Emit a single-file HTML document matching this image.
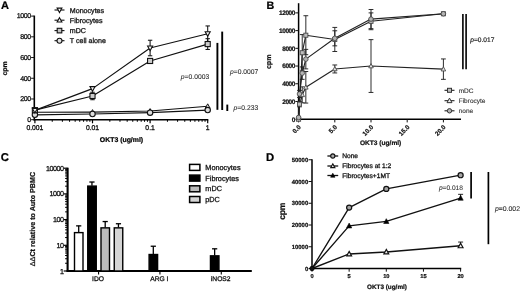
<!DOCTYPE html>
<html lang="en">
<head>
<meta charset="utf-8">
<title>Figure</title>
<style>
html,body{margin:0;padding:0;background:#fff;}
body{width:520px;height:291px;overflow:hidden;font-family:"Liberation Sans", sans-serif;}
svg{display:block;will-change:transform;filter:grayscale(1) blur(0.4px);}
</style>
</head>
<body>
<svg width="520" height="291" viewBox="0 0 520 291" font-family='"Liberation Sans", sans-serif' text-rendering="geometricPrecision">
<rect x="0" y="0" width="520" height="291" fill="#ffffff"/>
<g id="panelA">
<text x="1.00" y="8.70" font-size="11.0" font-weight="bold" font-style="normal" text-anchor="start" fill="#000" stroke="#000" stroke-width="0.22">A</text>
<line x1="34.30" y1="15.60" x2="34.30" y2="120.50" stroke="#000" stroke-width="1.6" stroke-linecap="butt"/>
<line x1="33.50" y1="119.70" x2="208.30" y2="119.70" stroke="#000" stroke-width="1.6" stroke-linecap="butt"/>
<line x1="31.10" y1="119.70" x2="34.30" y2="119.70" stroke="#111" stroke-width="1.0" stroke-linecap="butt"/>
<text x="30.80" y="122.00" font-size="7.0" font-weight="normal" font-style="normal" text-anchor="end" fill="#111" stroke="#111" stroke-width="0.28" letter-spacing="-0.36">0</text>
<line x1="31.10" y1="98.98" x2="34.30" y2="98.98" stroke="#111" stroke-width="1.0" stroke-linecap="butt"/>
<text x="30.80" y="101.28" font-size="7.0" font-weight="normal" font-style="normal" text-anchor="end" fill="#111" stroke="#111" stroke-width="0.28" letter-spacing="-0.36">200</text>
<line x1="31.10" y1="78.26" x2="34.30" y2="78.26" stroke="#111" stroke-width="1.0" stroke-linecap="butt"/>
<text x="30.80" y="80.56" font-size="7.0" font-weight="normal" font-style="normal" text-anchor="end" fill="#111" stroke="#111" stroke-width="0.28" letter-spacing="-0.36">400</text>
<line x1="31.10" y1="57.54" x2="34.30" y2="57.54" stroke="#111" stroke-width="1.0" stroke-linecap="butt"/>
<text x="30.80" y="59.84" font-size="7.0" font-weight="normal" font-style="normal" text-anchor="end" fill="#111" stroke="#111" stroke-width="0.28" letter-spacing="-0.36">600</text>
<line x1="31.10" y1="36.82" x2="34.30" y2="36.82" stroke="#111" stroke-width="1.0" stroke-linecap="butt"/>
<text x="30.80" y="39.12" font-size="7.0" font-weight="normal" font-style="normal" text-anchor="end" fill="#111" stroke="#111" stroke-width="0.28" letter-spacing="-0.36">800</text>
<line x1="31.10" y1="16.10" x2="34.30" y2="16.10" stroke="#111" stroke-width="1.0" stroke-linecap="butt"/>
<text x="30.80" y="18.40" font-size="7.0" font-weight="normal" font-style="normal" text-anchor="end" fill="#111" stroke="#111" stroke-width="0.28" letter-spacing="-0.36">1000</text>
<line x1="34.90" y1="119.70" x2="34.90" y2="123.30" stroke="#000" stroke-width="1.2" stroke-linecap="butt"/>
<line x1="52.24" y1="119.70" x2="52.24" y2="121.80" stroke="#000" stroke-width="1.0" stroke-linecap="butt"/>
<line x1="62.38" y1="119.70" x2="62.38" y2="121.80" stroke="#000" stroke-width="1.0" stroke-linecap="butt"/>
<line x1="69.58" y1="119.70" x2="69.58" y2="121.80" stroke="#000" stroke-width="1.0" stroke-linecap="butt"/>
<line x1="75.16" y1="119.70" x2="75.16" y2="121.80" stroke="#000" stroke-width="1.0" stroke-linecap="butt"/>
<line x1="79.72" y1="119.70" x2="79.72" y2="121.80" stroke="#000" stroke-width="1.0" stroke-linecap="butt"/>
<line x1="83.58" y1="119.70" x2="83.58" y2="121.80" stroke="#000" stroke-width="1.0" stroke-linecap="butt"/>
<line x1="86.92" y1="119.70" x2="86.92" y2="121.80" stroke="#000" stroke-width="1.0" stroke-linecap="butt"/>
<line x1="89.86" y1="119.70" x2="89.86" y2="121.80" stroke="#000" stroke-width="1.0" stroke-linecap="butt"/>
<line x1="92.50" y1="119.70" x2="92.50" y2="123.30" stroke="#000" stroke-width="1.2" stroke-linecap="butt"/>
<line x1="109.84" y1="119.70" x2="109.84" y2="121.80" stroke="#000" stroke-width="1.0" stroke-linecap="butt"/>
<line x1="119.98" y1="119.70" x2="119.98" y2="121.80" stroke="#000" stroke-width="1.0" stroke-linecap="butt"/>
<line x1="127.18" y1="119.70" x2="127.18" y2="121.80" stroke="#000" stroke-width="1.0" stroke-linecap="butt"/>
<line x1="132.76" y1="119.70" x2="132.76" y2="121.80" stroke="#000" stroke-width="1.0" stroke-linecap="butt"/>
<line x1="137.32" y1="119.70" x2="137.32" y2="121.80" stroke="#000" stroke-width="1.0" stroke-linecap="butt"/>
<line x1="141.18" y1="119.70" x2="141.18" y2="121.80" stroke="#000" stroke-width="1.0" stroke-linecap="butt"/>
<line x1="144.52" y1="119.70" x2="144.52" y2="121.80" stroke="#000" stroke-width="1.0" stroke-linecap="butt"/>
<line x1="147.46" y1="119.70" x2="147.46" y2="121.80" stroke="#000" stroke-width="1.0" stroke-linecap="butt"/>
<line x1="150.10" y1="119.70" x2="150.10" y2="123.30" stroke="#000" stroke-width="1.2" stroke-linecap="butt"/>
<line x1="167.44" y1="119.70" x2="167.44" y2="121.80" stroke="#000" stroke-width="1.0" stroke-linecap="butt"/>
<line x1="177.58" y1="119.70" x2="177.58" y2="121.80" stroke="#000" stroke-width="1.0" stroke-linecap="butt"/>
<line x1="184.78" y1="119.70" x2="184.78" y2="121.80" stroke="#000" stroke-width="1.0" stroke-linecap="butt"/>
<line x1="190.36" y1="119.70" x2="190.36" y2="121.80" stroke="#000" stroke-width="1.0" stroke-linecap="butt"/>
<line x1="194.92" y1="119.70" x2="194.92" y2="121.80" stroke="#000" stroke-width="1.0" stroke-linecap="butt"/>
<line x1="198.78" y1="119.70" x2="198.78" y2="121.80" stroke="#000" stroke-width="1.0" stroke-linecap="butt"/>
<line x1="202.12" y1="119.70" x2="202.12" y2="121.80" stroke="#000" stroke-width="1.0" stroke-linecap="butt"/>
<line x1="205.06" y1="119.70" x2="205.06" y2="121.80" stroke="#000" stroke-width="1.0" stroke-linecap="butt"/>
<line x1="207.70" y1="119.70" x2="207.70" y2="123.30" stroke="#000" stroke-width="1.2" stroke-linecap="butt"/>
<text x="34.90" y="130.10" font-size="6.8" font-weight="normal" font-style="normal" text-anchor="middle" fill="#111" stroke="#111" stroke-width="0.28">0.001</text>
<text x="92.50" y="130.10" font-size="6.8" font-weight="normal" font-style="normal" text-anchor="middle" fill="#111" stroke="#111" stroke-width="0.28">0.01</text>
<text x="150.10" y="130.10" font-size="6.8" font-weight="normal" font-style="normal" text-anchor="middle" fill="#111" stroke="#111" stroke-width="0.28">0.1</text>
<text x="207.70" y="130.10" font-size="6.8" font-weight="normal" font-style="normal" text-anchor="middle" fill="#111" stroke="#111" stroke-width="0.28">1</text>
<text x="121.50" y="141.70" font-size="6.9" font-weight="bold" font-style="normal" text-anchor="middle" fill="#000" stroke="#000" stroke-width="0.22">OKT3 (ug/ml)</text>
<text x="6.60" y="68.50" font-size="6.9" font-weight="bold" font-style="normal" text-anchor="middle" fill="#111" stroke="#111" stroke-width="0.22" transform="rotate(-90 6.60 68.50)">cpm</text>
<polyline points="34.90,110.38 92.50,88.62 150.10,48.01 207.70,33.71" fill="none" stroke="#111" stroke-width="1.2" stroke-linejoin="round"/>
<polyline points="34.90,110.17 92.50,95.98 150.10,60.96 207.70,44.07" fill="none" stroke="#111" stroke-width="1.2" stroke-linejoin="round"/>
<polyline points="34.90,112.24 92.50,112.03 150.10,111.00 207.70,106.23" fill="none" stroke="#111" stroke-width="1.2" stroke-linejoin="round"/>
<polyline points="34.90,114.83 92.50,114.00 150.10,112.66 207.70,110.07" fill="none" stroke="#111" stroke-width="1.2" stroke-linejoin="round"/>
<line x1="150.10" y1="40.24" x2="150.10" y2="55.78" stroke="#111" stroke-width="1.05" stroke-linecap="butt"/>
<line x1="147.90" y1="40.24" x2="152.30" y2="40.24" stroke="#111" stroke-width="1.05" stroke-linecap="butt"/>
<line x1="147.90" y1="55.78" x2="152.30" y2="55.78" stroke="#111" stroke-width="1.05" stroke-linecap="butt"/>
<line x1="207.70" y1="25.94" x2="207.70" y2="41.48" stroke="#111" stroke-width="1.05" stroke-linecap="butt"/>
<line x1="205.50" y1="25.94" x2="209.90" y2="25.94" stroke="#111" stroke-width="1.05" stroke-linecap="butt"/>
<line x1="205.50" y1="41.48" x2="209.90" y2="41.48" stroke="#111" stroke-width="1.05" stroke-linecap="butt"/>
<line x1="92.50" y1="92.25" x2="92.50" y2="99.71" stroke="#111" stroke-width="1.05" stroke-linecap="butt"/>
<line x1="90.30" y1="92.25" x2="94.70" y2="92.25" stroke="#111" stroke-width="1.05" stroke-linecap="butt"/>
<line x1="90.30" y1="99.71" x2="94.70" y2="99.71" stroke="#111" stroke-width="1.05" stroke-linecap="butt"/>
<line x1="207.70" y1="38.68" x2="207.70" y2="49.46" stroke="#111" stroke-width="1.05" stroke-linecap="butt"/>
<line x1="205.50" y1="38.68" x2="209.90" y2="38.68" stroke="#111" stroke-width="1.05" stroke-linecap="butt"/>
<line x1="205.50" y1="49.46" x2="209.90" y2="49.46" stroke="#111" stroke-width="1.05" stroke-linecap="butt"/>
<polygon points="34.90,109.84 37.18,114.04 32.62,114.04" fill="#eee" stroke="#111" stroke-width="1.0" stroke-linejoin="miter"/>
<polygon points="92.50,109.63 94.78,113.83 90.22,113.83" fill="#eee" stroke="#111" stroke-width="1.0" stroke-linejoin="miter"/>
<polygon points="150.10,108.60 152.38,112.80 147.82,112.80" fill="#eee" stroke="#111" stroke-width="1.0" stroke-linejoin="miter"/>
<polygon points="207.70,103.83 209.98,108.03 205.42,108.03" fill="#eee" stroke="#111" stroke-width="1.0" stroke-linejoin="miter"/>
<circle cx="34.90" cy="114.83" r="2.7" fill="#ddd" stroke="#111" stroke-width="1.1"/>
<circle cx="92.50" cy="114.00" r="2.7" fill="#ddd" stroke="#111" stroke-width="1.1"/>
<circle cx="150.10" cy="112.66" r="2.7" fill="#ddd" stroke="#111" stroke-width="1.1"/>
<circle cx="207.70" cy="110.07" r="2.7" fill="#ddd" stroke="#111" stroke-width="1.1"/>
<rect x="32.35" y="107.62" width="5.10" height="5.10" fill="#ccc" stroke="#111" stroke-width="1.1"/>
<rect x="89.95" y="93.43" width="5.10" height="5.10" fill="#ccc" stroke="#111" stroke-width="1.1"/>
<rect x="147.55" y="58.41" width="5.10" height="5.10" fill="#ccc" stroke="#111" stroke-width="1.1"/>
<rect x="205.15" y="41.52" width="5.10" height="5.10" fill="#ccc" stroke="#111" stroke-width="1.1"/>
<polygon points="34.90,113.03 37.42,108.39 32.38,108.39" fill="#f4f4f4" stroke="#111" stroke-width="1.1" stroke-linejoin="miter"/>
<polygon points="92.50,91.27 95.02,86.63 89.98,86.63" fill="#f4f4f4" stroke="#111" stroke-width="1.1" stroke-linejoin="miter"/>
<polygon points="150.10,50.66 152.62,46.02 147.58,46.02" fill="#f4f4f4" stroke="#111" stroke-width="1.1" stroke-linejoin="miter"/>
<polygon points="207.70,36.36 210.22,31.72 205.18,31.72" fill="#f4f4f4" stroke="#111" stroke-width="1.1" stroke-linejoin="miter"/>
<line x1="54.50" y1="10.00" x2="64.50" y2="10.00" stroke="#111" stroke-width="1.1" stroke-linecap="butt"/>
<text x="69.80" y="12.60" font-size="7.1" font-weight="normal" font-style="normal" text-anchor="start" fill="#111" stroke="#111" stroke-width="0.28">Monocytes</text>
<line x1="54.50" y1="20.20" x2="64.50" y2="20.20" stroke="#111" stroke-width="1.1" stroke-linecap="butt"/>
<text x="69.80" y="22.80" font-size="7.1" font-weight="normal" font-style="normal" text-anchor="start" fill="#111" stroke="#111" stroke-width="0.28">Fibrocytes</text>
<line x1="54.50" y1="30.60" x2="64.50" y2="30.60" stroke="#111" stroke-width="1.1" stroke-linecap="butt"/>
<text x="69.80" y="33.20" font-size="7.1" font-weight="normal" font-style="normal" text-anchor="start" fill="#111" stroke="#111" stroke-width="0.28">mDC</text>
<line x1="54.50" y1="40.70" x2="64.50" y2="40.70" stroke="#111" stroke-width="1.1" stroke-linecap="butt"/>
<text x="69.80" y="43.30" font-size="7.1" font-weight="normal" font-style="normal" text-anchor="start" fill="#111" stroke="#111" stroke-width="0.28">T cell alone</text>
<polygon points="59.50,12.50 61.88,8.12 57.12,8.12" fill="#fff" stroke="#111" stroke-width="1.1" stroke-linejoin="miter"/>
<polygon points="59.50,17.70 61.88,22.07 57.12,22.07" fill="#fff" stroke="#111" stroke-width="1.1" stroke-linejoin="miter"/>
<rect x="57.20" y="28.30" width="4.60" height="4.60" fill="#c4c4c4" stroke="#111" stroke-width="1.1"/>
<circle cx="59.50" cy="40.70" r="2.5" fill="#e2e2e2" stroke="#111" stroke-width="1.1"/>
<line x1="217.40" y1="42.90" x2="217.40" y2="109.80" stroke="#000" stroke-width="1.9" stroke-linecap="butt"/>
<line x1="222.20" y1="31.60" x2="222.20" y2="110.00" stroke="#000" stroke-width="1.9" stroke-linecap="butt"/>
<line x1="227.30" y1="104.60" x2="227.30" y2="111.00" stroke="#000" stroke-width="1.9" stroke-linecap="butt"/>
<text x="180.80" y="79.40" font-size="6.75" fill="#2a2a2a" stroke="#2a2a2a" stroke-width="0.08"><tspan font-style="italic">p</tspan>=0.0003</text>
<text x="230.00" y="73.50" font-size="6.75" fill="#2a2a2a" stroke="#2a2a2a" stroke-width="0.08"><tspan font-style="italic">p</tspan>=0.0007</text>
<text x="233.60" y="109.90" font-size="6.75" fill="#2a2a2a" stroke="#2a2a2a" stroke-width="0.08"><tspan font-style="italic">p</tspan>=0.233</text>
</g>
<g id="panelB">
<text x="266.50" y="8.80" font-size="10.7" font-weight="bold" font-style="normal" text-anchor="start" fill="#000" stroke="#000" stroke-width="0.22">B</text>
<line x1="298.60" y1="3.20" x2="298.60" y2="119.90" stroke="#000" stroke-width="1.5" stroke-linecap="butt"/>
<line x1="297.90" y1="119.20" x2="461.00" y2="119.20" stroke="#000" stroke-width="1.5" stroke-linecap="butt"/>
<line x1="295.40" y1="119.20" x2="298.60" y2="119.20" stroke="#111" stroke-width="1.0" stroke-linecap="butt"/>
<text x="295.10" y="121.55" font-size="6.5" font-weight="bold" font-style="normal" text-anchor="end" fill="#111" stroke="#111" stroke-width="0.22" letter-spacing="-0.38">0</text>
<line x1="295.40" y1="101.48" x2="298.60" y2="101.48" stroke="#111" stroke-width="1.0" stroke-linecap="butt"/>
<text x="295.10" y="103.83" font-size="6.5" font-weight="bold" font-style="normal" text-anchor="end" fill="#111" stroke="#111" stroke-width="0.22" letter-spacing="-0.38">2000</text>
<line x1="295.40" y1="83.76" x2="298.60" y2="83.76" stroke="#111" stroke-width="1.0" stroke-linecap="butt"/>
<text x="295.10" y="86.11" font-size="6.5" font-weight="bold" font-style="normal" text-anchor="end" fill="#111" stroke="#111" stroke-width="0.22" letter-spacing="-0.38">4000</text>
<line x1="295.40" y1="66.04" x2="298.60" y2="66.04" stroke="#111" stroke-width="1.0" stroke-linecap="butt"/>
<text x="295.10" y="68.39" font-size="6.5" font-weight="bold" font-style="normal" text-anchor="end" fill="#111" stroke="#111" stroke-width="0.22" letter-spacing="-0.38">6000</text>
<line x1="295.40" y1="48.32" x2="298.60" y2="48.32" stroke="#111" stroke-width="1.0" stroke-linecap="butt"/>
<text x="295.10" y="50.67" font-size="6.5" font-weight="bold" font-style="normal" text-anchor="end" fill="#111" stroke="#111" stroke-width="0.22" letter-spacing="-0.38">8000</text>
<line x1="295.40" y1="30.60" x2="298.60" y2="30.60" stroke="#111" stroke-width="1.0" stroke-linecap="butt"/>
<text x="295.10" y="32.95" font-size="6.5" font-weight="bold" font-style="normal" text-anchor="end" fill="#111" stroke="#111" stroke-width="0.22" letter-spacing="-0.38">10000</text>
<line x1="295.40" y1="12.88" x2="298.60" y2="12.88" stroke="#111" stroke-width="1.0" stroke-linecap="butt"/>
<text x="295.10" y="15.23" font-size="6.5" font-weight="bold" font-style="normal" text-anchor="end" fill="#111" stroke="#111" stroke-width="0.22" letter-spacing="-0.38">12000</text>
<line x1="298.60" y1="119.20" x2="298.60" y2="122.40" stroke="#111" stroke-width="1.0" stroke-linecap="butt"/>
<text x="301.30" y="127.50" font-size="6.3" font-weight="bold" font-style="normal" text-anchor="end" fill="#111" stroke="#111" stroke-width="0.22" transform="rotate(-45 301.30 127.50)">0.0</text>
<line x1="334.80" y1="119.20" x2="334.80" y2="122.40" stroke="#111" stroke-width="1.0" stroke-linecap="butt"/>
<text x="337.50" y="127.50" font-size="6.3" font-weight="bold" font-style="normal" text-anchor="end" fill="#111" stroke="#111" stroke-width="0.22" transform="rotate(-45 337.50 127.50)">5.0</text>
<line x1="371.00" y1="119.20" x2="371.00" y2="122.40" stroke="#111" stroke-width="1.0" stroke-linecap="butt"/>
<text x="373.70" y="127.50" font-size="6.3" font-weight="bold" font-style="normal" text-anchor="end" fill="#111" stroke="#111" stroke-width="0.22" transform="rotate(-45 373.70 127.50)">10.0</text>
<line x1="407.20" y1="119.20" x2="407.20" y2="122.40" stroke="#111" stroke-width="1.0" stroke-linecap="butt"/>
<text x="409.90" y="127.50" font-size="6.3" font-weight="bold" font-style="normal" text-anchor="end" fill="#111" stroke="#111" stroke-width="0.22" transform="rotate(-45 409.90 127.50)">15.0</text>
<line x1="443.40" y1="119.20" x2="443.40" y2="122.40" stroke="#111" stroke-width="1.0" stroke-linecap="butt"/>
<text x="446.10" y="127.50" font-size="6.3" font-weight="bold" font-style="normal" text-anchor="end" fill="#111" stroke="#111" stroke-width="0.22" transform="rotate(-45 446.10 127.50)">20.0</text>
<text x="380.60" y="145.20" font-size="6.6" font-weight="bold" font-style="normal" text-anchor="middle" fill="#111" stroke="#111" stroke-width="0.22">OKT3 (ug/ml)</text>
<text x="271.40" y="61.80" font-size="7.1" font-weight="bold" font-style="normal" text-anchor="middle" fill="#111" stroke="#111" stroke-width="0.22" transform="rotate(-90 271.40 61.80)">cpm</text>
<polyline points="298.60,119.20 299.50,104.14 302.22,52.75 305.84,35.21 334.80,39.46 371.00,21.30 443.40,13.77" fill="none" stroke="#222" stroke-width="1.15" stroke-linejoin="round"/>
<polyline points="298.60,117.43 299.50,93.95 302.22,73.13 305.84,59.13 334.80,38.31 371.00,19.08 443.40,13.77" fill="none" stroke="#222" stroke-width="1.15" stroke-linejoin="round"/>
<polyline points="298.60,119.20 299.50,105.91 302.22,94.84 305.84,87.30 334.80,68.96 371.00,66.04 443.40,69.14" fill="none" stroke="#222" stroke-width="1.15" stroke-linejoin="round"/>
<line x1="299.50" y1="101.48" x2="299.50" y2="106.80" stroke="#222" stroke-width="0.95" stroke-linecap="butt"/>
<line x1="297.11" y1="101.48" x2="301.90" y2="101.48" stroke="#222" stroke-width="0.95" stroke-linecap="butt"/>
<line x1="297.11" y1="106.80" x2="301.90" y2="106.80" stroke="#222" stroke-width="0.95" stroke-linecap="butt"/>
<line x1="302.22" y1="34.59" x2="302.22" y2="70.91" stroke="#222" stroke-width="0.95" stroke-linecap="butt"/>
<line x1="299.82" y1="34.59" x2="304.62" y2="34.59" stroke="#222" stroke-width="0.95" stroke-linecap="butt"/>
<line x1="299.82" y1="70.91" x2="304.62" y2="70.91" stroke="#222" stroke-width="0.95" stroke-linecap="butt"/>
<line x1="305.84" y1="15.72" x2="305.84" y2="54.70" stroke="#222" stroke-width="0.95" stroke-linecap="butt"/>
<line x1="303.44" y1="15.72" x2="308.24" y2="15.72" stroke="#222" stroke-width="0.95" stroke-linecap="butt"/>
<line x1="303.44" y1="54.70" x2="308.24" y2="54.70" stroke="#222" stroke-width="0.95" stroke-linecap="butt"/>
<line x1="334.80" y1="27.41" x2="334.80" y2="51.51" stroke="#222" stroke-width="0.95" stroke-linecap="butt"/>
<line x1="332.40" y1="27.41" x2="337.20" y2="27.41" stroke="#222" stroke-width="0.95" stroke-linecap="butt"/>
<line x1="332.40" y1="51.51" x2="337.20" y2="51.51" stroke="#222" stroke-width="0.95" stroke-linecap="butt"/>
<line x1="371.00" y1="12.88" x2="371.00" y2="29.71" stroke="#222" stroke-width="0.95" stroke-linecap="butt"/>
<line x1="368.60" y1="12.88" x2="373.40" y2="12.88" stroke="#222" stroke-width="0.95" stroke-linecap="butt"/>
<line x1="368.60" y1="29.71" x2="373.40" y2="29.71" stroke="#222" stroke-width="0.95" stroke-linecap="butt"/>
<line x1="299.50" y1="90.41" x2="299.50" y2="97.49" stroke="#222" stroke-width="0.95" stroke-linecap="butt"/>
<line x1="297.11" y1="90.41" x2="301.90" y2="90.41" stroke="#222" stroke-width="0.95" stroke-linecap="butt"/>
<line x1="297.11" y1="97.49" x2="301.90" y2="97.49" stroke="#222" stroke-width="0.95" stroke-linecap="butt"/>
<line x1="302.22" y1="66.93" x2="302.22" y2="79.33" stroke="#222" stroke-width="0.95" stroke-linecap="butt"/>
<line x1="299.82" y1="66.93" x2="304.62" y2="66.93" stroke="#222" stroke-width="0.95" stroke-linecap="butt"/>
<line x1="299.82" y1="79.33" x2="304.62" y2="79.33" stroke="#222" stroke-width="0.95" stroke-linecap="butt"/>
<line x1="305.84" y1="49.38" x2="305.84" y2="68.88" stroke="#222" stroke-width="0.95" stroke-linecap="butt"/>
<line x1="303.44" y1="49.38" x2="308.24" y2="49.38" stroke="#222" stroke-width="0.95" stroke-linecap="butt"/>
<line x1="303.44" y1="68.88" x2="308.24" y2="68.88" stroke="#222" stroke-width="0.95" stroke-linecap="butt"/>
<line x1="334.80" y1="30.78" x2="334.80" y2="45.84" stroke="#222" stroke-width="0.95" stroke-linecap="butt"/>
<line x1="332.40" y1="30.78" x2="337.20" y2="30.78" stroke="#222" stroke-width="0.95" stroke-linecap="butt"/>
<line x1="332.40" y1="45.84" x2="337.20" y2="45.84" stroke="#222" stroke-width="0.95" stroke-linecap="butt"/>
<line x1="371.00" y1="9.51" x2="371.00" y2="28.65" stroke="#222" stroke-width="0.95" stroke-linecap="butt"/>
<line x1="368.60" y1="9.51" x2="373.40" y2="9.51" stroke="#222" stroke-width="0.95" stroke-linecap="butt"/>
<line x1="368.60" y1="28.65" x2="373.40" y2="28.65" stroke="#222" stroke-width="0.95" stroke-linecap="butt"/>
<line x1="302.22" y1="86.86" x2="302.22" y2="102.81" stroke="#222" stroke-width="0.95" stroke-linecap="butt"/>
<line x1="299.82" y1="86.86" x2="304.62" y2="86.86" stroke="#222" stroke-width="0.95" stroke-linecap="butt"/>
<line x1="299.82" y1="102.81" x2="304.62" y2="102.81" stroke="#222" stroke-width="0.95" stroke-linecap="butt"/>
<line x1="305.84" y1="71.53" x2="305.84" y2="103.07" stroke="#222" stroke-width="0.95" stroke-linecap="butt"/>
<line x1="303.44" y1="71.53" x2="308.24" y2="71.53" stroke="#222" stroke-width="0.95" stroke-linecap="butt"/>
<line x1="303.44" y1="103.07" x2="308.24" y2="103.07" stroke="#222" stroke-width="0.95" stroke-linecap="butt"/>
<line x1="334.80" y1="64.98" x2="334.80" y2="72.95" stroke="#222" stroke-width="0.95" stroke-linecap="butt"/>
<line x1="332.40" y1="64.98" x2="337.20" y2="64.98" stroke="#222" stroke-width="0.95" stroke-linecap="butt"/>
<line x1="332.40" y1="72.95" x2="337.20" y2="72.95" stroke="#222" stroke-width="0.95" stroke-linecap="butt"/>
<line x1="371.00" y1="39.64" x2="371.00" y2="92.44" stroke="#222" stroke-width="0.95" stroke-linecap="butt"/>
<line x1="368.60" y1="39.64" x2="373.40" y2="39.64" stroke="#222" stroke-width="0.95" stroke-linecap="butt"/>
<line x1="368.60" y1="92.44" x2="373.40" y2="92.44" stroke="#222" stroke-width="0.95" stroke-linecap="butt"/>
<line x1="443.40" y1="58.95" x2="443.40" y2="79.33" stroke="#222" stroke-width="0.95" stroke-linecap="butt"/>
<line x1="441.00" y1="58.95" x2="445.80" y2="58.95" stroke="#222" stroke-width="0.95" stroke-linecap="butt"/>
<line x1="441.00" y1="79.33" x2="445.80" y2="79.33" stroke="#222" stroke-width="0.95" stroke-linecap="butt"/>
<polygon points="302.22,92.44 304.50,96.64 299.94,96.64" fill="#e4e4e4" stroke="#444" stroke-width="0.85" stroke-linejoin="miter"/>
<polygon points="305.84,84.90 308.12,89.10 303.56,89.10" fill="#e4e4e4" stroke="#444" stroke-width="0.85" stroke-linejoin="miter"/>
<polygon points="334.80,66.56 337.08,70.76 332.52,70.76" fill="#e4e4e4" stroke="#444" stroke-width="0.85" stroke-linejoin="miter"/>
<polygon points="371.00,63.64 373.28,67.84 368.72,67.84" fill="#e4e4e4" stroke="#444" stroke-width="0.85" stroke-linejoin="miter"/>
<polygon points="443.40,66.74 445.68,70.94 441.12,70.94" fill="#e4e4e4" stroke="#444" stroke-width="0.85" stroke-linejoin="miter"/>
<rect x="296.55" y="117.15" width="4.10" height="4.10" fill="#bdbdbd" stroke="#444" stroke-width="0.85"/>
<rect x="297.45" y="102.09" width="4.10" height="4.10" fill="#bdbdbd" stroke="#444" stroke-width="0.85"/>
<rect x="300.17" y="50.70" width="4.10" height="4.10" fill="#bdbdbd" stroke="#444" stroke-width="0.85"/>
<rect x="303.79" y="33.16" width="4.10" height="4.10" fill="#bdbdbd" stroke="#444" stroke-width="0.85"/>
<rect x="332.75" y="37.41" width="4.10" height="4.10" fill="#bdbdbd" stroke="#444" stroke-width="0.85"/>
<rect x="368.95" y="19.25" width="4.10" height="4.10" fill="#bdbdbd" stroke="#444" stroke-width="0.85"/>
<rect x="441.35" y="11.72" width="4.10" height="4.10" fill="#bdbdbd" stroke="#444" stroke-width="0.85"/>
<circle cx="298.60" cy="117.43" r="2.3" fill="#b4b4b4" stroke="#444" stroke-width="0.85"/>
<circle cx="299.50" cy="93.95" r="2.3" fill="#b4b4b4" stroke="#444" stroke-width="0.85"/>
<circle cx="302.22" cy="73.13" r="2.3" fill="#b4b4b4" stroke="#444" stroke-width="0.85"/>
<circle cx="305.84" cy="59.13" r="2.3" fill="#b4b4b4" stroke="#444" stroke-width="0.85"/>
<circle cx="334.80" cy="38.31" r="2.3" fill="#b4b4b4" stroke="#444" stroke-width="0.85"/>
<circle cx="371.00" cy="19.08" r="2.3" fill="#b4b4b4" stroke="#444" stroke-width="0.85"/>
<circle cx="443.40" cy="13.77" r="2.3" fill="#b4b4b4" stroke="#444" stroke-width="0.85"/>
<line x1="462.90" y1="14.00" x2="462.90" y2="69.20" stroke="#000" stroke-width="1.6" stroke-linecap="butt"/>
<line x1="466.10" y1="14.00" x2="466.10" y2="69.20" stroke="#000" stroke-width="1.6" stroke-linecap="butt"/>
<text x="470.30" y="41.90" font-size="6.6" fill="#222" stroke="#222" stroke-width="0.2"><tspan font-style="italic">p</tspan>=0.017</text>
<line x1="444.50" y1="90.30" x2="454.50" y2="90.30" stroke="#222" stroke-width="1.1" stroke-linecap="butt"/>
<text x="458.70" y="92.70" font-size="6.5" font-weight="normal" font-style="normal" text-anchor="start" fill="#333" stroke="#333" stroke-width="0.12">mDC</text>
<line x1="444.50" y1="100.70" x2="454.50" y2="100.70" stroke="#222" stroke-width="1.1" stroke-linecap="butt"/>
<text x="458.70" y="103.10" font-size="6.5" font-weight="normal" font-style="normal" text-anchor="start" fill="#333" stroke="#333" stroke-width="0.12">Fibrocyte</text>
<line x1="444.50" y1="110.80" x2="454.50" y2="110.80" stroke="#222" stroke-width="1.1" stroke-linecap="butt"/>
<text x="458.70" y="113.20" font-size="6.5" font-weight="normal" font-style="normal" text-anchor="start" fill="#333" stroke="#333" stroke-width="0.12">none</text>
<rect x="447.50" y="88.30" width="4.00" height="4.00" fill="#c0c0c0" stroke="#333" stroke-width="1.0"/>
<polygon points="449.50,98.10 451.97,102.65 447.03,102.65" fill="#eee" stroke="#333" stroke-width="1.0" stroke-linejoin="miter"/>
<circle cx="449.50" cy="110.80" r="2.2" fill="#b4b4b4" stroke="#333" stroke-width="1.0"/>
</g>
<g id="panelC">
<text x="0.70" y="160.80" font-size="11.3" font-weight="bold" font-style="normal" text-anchor="start" fill="#000" stroke="#000" stroke-width="0.22">C</text>
<line x1="67.60" y1="167.70" x2="67.60" y2="271.90" stroke="#000" stroke-width="2.1" stroke-linecap="butt"/>
<line x1="66.60" y1="271.00" x2="251.80" y2="271.00" stroke="#000" stroke-width="1.8" stroke-linecap="butt"/>
<line x1="63.70" y1="271.00" x2="67.60" y2="271.00" stroke="#000" stroke-width="1.2" stroke-linecap="butt"/>
<text x="63.50" y="273.50" font-size="7.2" font-weight="normal" font-style="normal" text-anchor="end" fill="#111" stroke="#111" stroke-width="0.28" letter-spacing="-0.5">1</text>
<line x1="65.10" y1="263.26" x2="67.60" y2="263.26" stroke="#000" stroke-width="1.0" stroke-linecap="butt"/>
<line x1="65.10" y1="258.74" x2="67.60" y2="258.74" stroke="#000" stroke-width="1.0" stroke-linecap="butt"/>
<line x1="65.10" y1="255.53" x2="67.60" y2="255.53" stroke="#000" stroke-width="1.0" stroke-linecap="butt"/>
<line x1="65.10" y1="253.04" x2="67.60" y2="253.04" stroke="#000" stroke-width="1.0" stroke-linecap="butt"/>
<line x1="65.10" y1="251.00" x2="67.60" y2="251.00" stroke="#000" stroke-width="1.0" stroke-linecap="butt"/>
<line x1="65.10" y1="249.28" x2="67.60" y2="249.28" stroke="#000" stroke-width="1.0" stroke-linecap="butt"/>
<line x1="65.10" y1="247.79" x2="67.60" y2="247.79" stroke="#000" stroke-width="1.0" stroke-linecap="butt"/>
<line x1="65.10" y1="246.48" x2="67.60" y2="246.48" stroke="#000" stroke-width="1.0" stroke-linecap="butt"/>
<line x1="63.70" y1="245.30" x2="67.60" y2="245.30" stroke="#000" stroke-width="1.2" stroke-linecap="butt"/>
<text x="63.50" y="247.80" font-size="7.2" font-weight="normal" font-style="normal" text-anchor="end" fill="#111" stroke="#111" stroke-width="0.28" letter-spacing="-0.5">10</text>
<line x1="65.10" y1="237.56" x2="67.60" y2="237.56" stroke="#000" stroke-width="1.0" stroke-linecap="butt"/>
<line x1="65.10" y1="233.04" x2="67.60" y2="233.04" stroke="#000" stroke-width="1.0" stroke-linecap="butt"/>
<line x1="65.10" y1="229.83" x2="67.60" y2="229.83" stroke="#000" stroke-width="1.0" stroke-linecap="butt"/>
<line x1="65.10" y1="227.34" x2="67.60" y2="227.34" stroke="#000" stroke-width="1.0" stroke-linecap="butt"/>
<line x1="65.10" y1="225.30" x2="67.60" y2="225.30" stroke="#000" stroke-width="1.0" stroke-linecap="butt"/>
<line x1="65.10" y1="223.58" x2="67.60" y2="223.58" stroke="#000" stroke-width="1.0" stroke-linecap="butt"/>
<line x1="65.10" y1="222.09" x2="67.60" y2="222.09" stroke="#000" stroke-width="1.0" stroke-linecap="butt"/>
<line x1="65.10" y1="220.78" x2="67.60" y2="220.78" stroke="#000" stroke-width="1.0" stroke-linecap="butt"/>
<line x1="63.70" y1="219.60" x2="67.60" y2="219.60" stroke="#000" stroke-width="1.2" stroke-linecap="butt"/>
<text x="63.50" y="222.10" font-size="7.2" font-weight="normal" font-style="normal" text-anchor="end" fill="#111" stroke="#111" stroke-width="0.28" letter-spacing="-0.5">100</text>
<line x1="65.10" y1="211.86" x2="67.60" y2="211.86" stroke="#000" stroke-width="1.0" stroke-linecap="butt"/>
<line x1="65.10" y1="207.34" x2="67.60" y2="207.34" stroke="#000" stroke-width="1.0" stroke-linecap="butt"/>
<line x1="65.10" y1="204.13" x2="67.60" y2="204.13" stroke="#000" stroke-width="1.0" stroke-linecap="butt"/>
<line x1="65.10" y1="201.64" x2="67.60" y2="201.64" stroke="#000" stroke-width="1.0" stroke-linecap="butt"/>
<line x1="65.10" y1="199.60" x2="67.60" y2="199.60" stroke="#000" stroke-width="1.0" stroke-linecap="butt"/>
<line x1="65.10" y1="197.88" x2="67.60" y2="197.88" stroke="#000" stroke-width="1.0" stroke-linecap="butt"/>
<line x1="65.10" y1="196.39" x2="67.60" y2="196.39" stroke="#000" stroke-width="1.0" stroke-linecap="butt"/>
<line x1="65.10" y1="195.08" x2="67.60" y2="195.08" stroke="#000" stroke-width="1.0" stroke-linecap="butt"/>
<line x1="63.70" y1="193.90" x2="67.60" y2="193.90" stroke="#000" stroke-width="1.2" stroke-linecap="butt"/>
<text x="63.50" y="196.40" font-size="7.2" font-weight="normal" font-style="normal" text-anchor="end" fill="#111" stroke="#111" stroke-width="0.28" letter-spacing="-0.5">1000</text>
<line x1="65.10" y1="186.16" x2="67.60" y2="186.16" stroke="#000" stroke-width="1.0" stroke-linecap="butt"/>
<line x1="65.10" y1="181.64" x2="67.60" y2="181.64" stroke="#000" stroke-width="1.0" stroke-linecap="butt"/>
<line x1="65.10" y1="178.43" x2="67.60" y2="178.43" stroke="#000" stroke-width="1.0" stroke-linecap="butt"/>
<line x1="65.10" y1="175.94" x2="67.60" y2="175.94" stroke="#000" stroke-width="1.0" stroke-linecap="butt"/>
<line x1="65.10" y1="173.90" x2="67.60" y2="173.90" stroke="#000" stroke-width="1.0" stroke-linecap="butt"/>
<line x1="65.10" y1="172.18" x2="67.60" y2="172.18" stroke="#000" stroke-width="1.0" stroke-linecap="butt"/>
<line x1="65.10" y1="170.69" x2="67.60" y2="170.69" stroke="#000" stroke-width="1.0" stroke-linecap="butt"/>
<line x1="65.10" y1="169.38" x2="67.60" y2="169.38" stroke="#000" stroke-width="1.0" stroke-linecap="butt"/>
<line x1="63.70" y1="168.20" x2="67.60" y2="168.20" stroke="#000" stroke-width="1.2" stroke-linecap="butt"/>
<text x="63.50" y="170.70" font-size="7.2" font-weight="normal" font-style="normal" text-anchor="end" fill="#111" stroke="#111" stroke-width="0.28" letter-spacing="-0.5">10000</text>
<text x="34.90" y="219.00" font-size="7.2" font-weight="bold" font-style="normal" text-anchor="middle" fill="#111" stroke="#111" stroke-width="0.22" transform="rotate(-90 34.90 219.00)"><tspan font-weight="normal">&#916;&#916;</tspan>Ct relative to Auto PBMC</text>
<line x1="78.70" y1="225.87" x2="78.70" y2="232.32" stroke="#000" stroke-width="1.3" stroke-linecap="butt"/>
<line x1="76.10" y1="225.87" x2="81.30" y2="225.87" stroke="#000" stroke-width="1.3" stroke-linecap="butt"/>
<rect x="74.50" y="232.62" width="8.50" height="38.38" fill="#fff" stroke="#000" stroke-width="1.4"/>
<line x1="91.95" y1="182.02" x2="91.95" y2="185.80" stroke="#000" stroke-width="1.3" stroke-linecap="butt"/>
<line x1="89.35" y1="182.02" x2="94.55" y2="182.02" stroke="#000" stroke-width="1.3" stroke-linecap="butt"/>
<rect x="87.75" y="186.10" width="8.50" height="84.90" fill="#000" stroke="#000" stroke-width="1.4"/>
<line x1="105.20" y1="221.55" x2="105.20" y2="227.56" stroke="#000" stroke-width="1.3" stroke-linecap="butt"/>
<line x1="102.60" y1="221.55" x2="107.80" y2="221.55" stroke="#000" stroke-width="1.3" stroke-linecap="butt"/>
<rect x="101.00" y="227.86" width="8.50" height="43.14" fill="#bbb" stroke="#000" stroke-width="1.4"/>
<line x1="118.45" y1="223.74" x2="118.45" y2="227.56" stroke="#000" stroke-width="1.3" stroke-linecap="butt"/>
<line x1="115.85" y1="223.74" x2="121.05" y2="223.74" stroke="#000" stroke-width="1.3" stroke-linecap="butt"/>
<rect x="114.25" y="227.86" width="8.50" height="43.14" fill="#d4d4d4" stroke="#000" stroke-width="1.4"/>
<line x1="153.30" y1="246.23" x2="153.30" y2="254.21" stroke="#000" stroke-width="1.3" stroke-linecap="butt"/>
<line x1="150.70" y1="246.23" x2="155.90" y2="246.23" stroke="#000" stroke-width="1.3" stroke-linecap="butt"/>
<rect x="149.10" y="254.51" width="8.50" height="16.49" fill="#000" stroke="#000" stroke-width="1.4"/>
<line x1="214.65" y1="248.81" x2="214.65" y2="255.53" stroke="#000" stroke-width="1.3" stroke-linecap="butt"/>
<line x1="212.05" y1="248.81" x2="217.25" y2="248.81" stroke="#000" stroke-width="1.3" stroke-linecap="butt"/>
<rect x="210.45" y="255.83" width="8.50" height="15.17" fill="#000" stroke="#000" stroke-width="1.4"/>
<line x1="98.58" y1="271.00" x2="98.58" y2="274.40" stroke="#000" stroke-width="1.1" stroke-linecap="butt"/>
<text x="97.98" y="281.40" font-size="6.7" font-weight="normal" font-style="normal" text-anchor="middle" fill="#111" stroke="#111" stroke-width="0.28">IDO</text>
<line x1="159.93" y1="271.00" x2="159.93" y2="274.40" stroke="#000" stroke-width="1.1" stroke-linecap="butt"/>
<text x="159.33" y="281.40" font-size="6.7" font-weight="normal" font-style="normal" text-anchor="middle" fill="#111" stroke="#111" stroke-width="0.28">ARG I</text>
<line x1="221.28" y1="271.00" x2="221.28" y2="274.40" stroke="#000" stroke-width="1.1" stroke-linecap="butt"/>
<text x="220.68" y="281.40" font-size="6.7" font-weight="normal" font-style="normal" text-anchor="middle" fill="#111" stroke="#111" stroke-width="0.28">iNOS2</text>
<rect x="189.60" y="164.40" width="10.30" height="6.00" fill="#fff" stroke="#000" stroke-width="1.5"/>
<text x="205.30" y="170.00" font-size="7.3" font-weight="normal" font-style="normal" text-anchor="start" fill="#111" stroke="#111" stroke-width="0.28">Monocytes</text>
<rect x="189.60" y="175.10" width="10.30" height="6.00" fill="#000" stroke="#000" stroke-width="1.5"/>
<text x="205.30" y="180.70" font-size="7.3" font-weight="normal" font-style="normal" text-anchor="start" fill="#111" stroke="#111" stroke-width="0.28">Fibrocytes</text>
<rect x="189.60" y="185.80" width="10.30" height="6.00" fill="#bbb" stroke="#000" stroke-width="1.5"/>
<text x="205.30" y="191.40" font-size="7.3" font-weight="normal" font-style="normal" text-anchor="start" fill="#111" stroke="#111" stroke-width="0.28">mDC</text>
<rect x="189.60" y="196.50" width="10.30" height="6.00" fill="#d4d4d4" stroke="#000" stroke-width="1.5"/>
<text x="205.30" y="202.10" font-size="7.3" font-weight="normal" font-style="normal" text-anchor="start" fill="#111" stroke="#111" stroke-width="0.28">pDC</text>
</g>
<g id="panelD">
<text x="266.10" y="160.90" font-size="11.3" font-weight="bold" font-style="normal" text-anchor="start" fill="#000" stroke="#000" stroke-width="0.22">D</text>
<line x1="312.00" y1="159.25" x2="312.00" y2="269.25" stroke="#000" stroke-width="1.5" stroke-linecap="butt"/>
<line x1="311.25" y1="268.50" x2="461.20" y2="268.50" stroke="#000" stroke-width="1.5" stroke-linecap="butt"/>
<line x1="308.60" y1="268.50" x2="312.00" y2="268.50" stroke="#111" stroke-width="1.0" stroke-linecap="butt"/>
<text x="308.20" y="270.60" font-size="5.95" font-weight="bold" font-style="normal" text-anchor="end" fill="#111" stroke="#111" stroke-width="0.22">0</text>
<line x1="308.60" y1="246.75" x2="312.00" y2="246.75" stroke="#111" stroke-width="1.0" stroke-linecap="butt"/>
<text x="308.20" y="248.85" font-size="5.95" font-weight="bold" font-style="normal" text-anchor="end" fill="#111" stroke="#111" stroke-width="0.22">10000</text>
<line x1="308.60" y1="225.00" x2="312.00" y2="225.00" stroke="#111" stroke-width="1.0" stroke-linecap="butt"/>
<text x="308.20" y="227.10" font-size="5.95" font-weight="bold" font-style="normal" text-anchor="end" fill="#111" stroke="#111" stroke-width="0.22">20000</text>
<line x1="308.60" y1="203.25" x2="312.00" y2="203.25" stroke="#111" stroke-width="1.0" stroke-linecap="butt"/>
<text x="308.20" y="205.35" font-size="5.95" font-weight="bold" font-style="normal" text-anchor="end" fill="#111" stroke="#111" stroke-width="0.22">30000</text>
<line x1="308.60" y1="181.50" x2="312.00" y2="181.50" stroke="#111" stroke-width="1.0" stroke-linecap="butt"/>
<text x="308.20" y="183.60" font-size="5.95" font-weight="bold" font-style="normal" text-anchor="end" fill="#111" stroke="#111" stroke-width="0.22">40000</text>
<line x1="308.60" y1="159.75" x2="312.00" y2="159.75" stroke="#111" stroke-width="1.0" stroke-linecap="butt"/>
<text x="308.20" y="161.85" font-size="5.95" font-weight="bold" font-style="normal" text-anchor="end" fill="#111" stroke="#111" stroke-width="0.22">50000</text>
<line x1="312.00" y1="268.50" x2="312.00" y2="271.70" stroke="#111" stroke-width="1.0" stroke-linecap="butt"/>
<text x="312.00" y="278.40" font-size="5.7" font-weight="bold" font-style="normal" text-anchor="middle" fill="#111" stroke="#111" stroke-width="0.22">0</text>
<line x1="349.15" y1="268.50" x2="349.15" y2="271.70" stroke="#111" stroke-width="1.0" stroke-linecap="butt"/>
<text x="349.15" y="278.40" font-size="5.7" font-weight="bold" font-style="normal" text-anchor="middle" fill="#111" stroke="#111" stroke-width="0.22">5</text>
<line x1="386.30" y1="268.50" x2="386.30" y2="271.70" stroke="#111" stroke-width="1.0" stroke-linecap="butt"/>
<text x="386.30" y="278.40" font-size="5.7" font-weight="bold" font-style="normal" text-anchor="middle" fill="#111" stroke="#111" stroke-width="0.22">10</text>
<line x1="423.45" y1="268.50" x2="423.45" y2="271.70" stroke="#111" stroke-width="1.0" stroke-linecap="butt"/>
<text x="423.45" y="278.40" font-size="5.7" font-weight="bold" font-style="normal" text-anchor="middle" fill="#111" stroke="#111" stroke-width="0.22">15</text>
<line x1="460.60" y1="268.50" x2="460.60" y2="271.70" stroke="#111" stroke-width="1.0" stroke-linecap="butt"/>
<text x="460.60" y="278.40" font-size="5.7" font-weight="bold" font-style="normal" text-anchor="middle" fill="#111" stroke="#111" stroke-width="0.22">20</text>
<text x="387.00" y="289.00" font-size="6.35" font-weight="bold" font-style="normal" text-anchor="middle" fill="#111" stroke="#111" stroke-width="0.22">OKT3 (ug/ml)</text>
<text x="284.90" y="211.30" font-size="8.6" font-weight="bold" font-style="normal" text-anchor="middle" fill="#111" stroke="#111" stroke-width="0.22" transform="rotate(-90 284.90 211.30)" letter-spacing="-0.2">cpm</text>
<polyline points="312.00,268.50 349.15,207.60 386.30,188.89 460.60,175.19" fill="none" stroke="#111" stroke-width="1.35" stroke-linejoin="round"/>
<polyline points="312.00,268.50 349.15,225.87 386.30,221.41 460.60,198.14" fill="none" stroke="#111" stroke-width="1.35" stroke-linejoin="round"/>
<polyline points="312.00,268.50 349.15,253.97 386.30,251.97 460.60,245.75" fill="none" stroke="#111" stroke-width="1.35" stroke-linejoin="round"/>
<line x1="460.60" y1="194.33" x2="460.60" y2="198.14" stroke="#111" stroke-width="0.9" stroke-linecap="butt"/>
<line x1="458.10" y1="194.33" x2="463.10" y2="194.33" stroke="#111" stroke-width="0.9" stroke-linecap="butt"/>
<line x1="460.60" y1="242.05" x2="460.60" y2="245.75" stroke="#111" stroke-width="0.9" stroke-linecap="butt"/>
<line x1="458.10" y1="242.05" x2="463.10" y2="242.05" stroke="#111" stroke-width="0.9" stroke-linecap="butt"/>
<polygon points="349.15,251.37 351.62,255.92 346.68,255.92" fill="#eee" stroke="#111" stroke-width="1.15" stroke-linejoin="miter"/>
<polygon points="386.30,249.37 388.77,253.92 383.83,253.92" fill="#eee" stroke="#111" stroke-width="1.15" stroke-linejoin="miter"/>
<polygon points="460.60,243.15 463.07,247.70 458.13,247.70" fill="#eee" stroke="#111" stroke-width="1.15" stroke-linejoin="miter"/>
<polygon points="349.15,223.12 351.76,227.93 346.54,227.93" fill="#000" stroke="#000" stroke-width="0.6" stroke-linejoin="miter"/>
<polygon points="386.30,218.66 388.91,223.47 383.69,223.47" fill="#000" stroke="#000" stroke-width="0.6" stroke-linejoin="miter"/>
<polygon points="460.60,195.39 463.21,200.20 457.99,200.20" fill="#000" stroke="#000" stroke-width="0.6" stroke-linejoin="miter"/>
<circle cx="349.15" cy="207.60" r="2.55" fill="#a4a4a4" stroke="#111" stroke-width="1.2"/>
<circle cx="386.30" cy="188.89" r="2.55" fill="#a4a4a4" stroke="#111" stroke-width="1.2"/>
<circle cx="460.60" cy="175.19" r="2.55" fill="#a4a4a4" stroke="#111" stroke-width="1.2"/>
<circle cx="312.00" cy="268.50" r="2.2" fill="#111" stroke="#000" stroke-width="0.8"/>
<line x1="327.40" y1="156.00" x2="338.20" y2="156.00" stroke="#111" stroke-width="1.3" stroke-linecap="butt"/>
<text x="342.20" y="158.40" font-size="6.65" font-weight="normal" font-style="normal" text-anchor="start" fill="#111" stroke="#111" stroke-width="0.28">None</text>
<line x1="327.40" y1="166.00" x2="338.20" y2="166.00" stroke="#111" stroke-width="1.3" stroke-linecap="butt"/>
<text x="342.20" y="168.40" font-size="6.65" font-weight="normal" font-style="normal" text-anchor="start" fill="#111" stroke="#111" stroke-width="0.28">Fibrocytes at 1:2</text>
<line x1="327.40" y1="175.50" x2="338.20" y2="175.50" stroke="#111" stroke-width="1.3" stroke-linecap="butt"/>
<text x="342.20" y="177.90" font-size="6.65" font-weight="normal" font-style="normal" text-anchor="start" fill="#111" stroke="#111" stroke-width="0.28">Fibrocytes+1MT</text>
<circle cx="332.80" cy="156.00" r="2.1" fill="#aaa" stroke="#111" stroke-width="1.1"/>
<polygon points="332.80,163.80 334.89,167.65 330.71,167.65" fill="#eee" stroke="#111" stroke-width="1.1" stroke-linejoin="miter"/>
<polygon points="332.80,173.20 334.99,177.22 330.62,177.22" fill="#000" stroke="#000" stroke-width="0.6" stroke-linejoin="miter"/>
<line x1="471.10" y1="172.00" x2="471.10" y2="198.40" stroke="#000" stroke-width="1.7" stroke-linecap="butt"/>
<line x1="488.40" y1="172.00" x2="488.40" y2="244.20" stroke="#000" stroke-width="1.7" stroke-linecap="butt"/>
<text x="438.90" y="189.90" font-size="6.6" fill="#2a2a2a" stroke="#2a2a2a" stroke-width="0.08"><tspan font-style="italic">p</tspan>=0.018</text>
<text x="494.90" y="210.80" font-size="6.9" fill="#2a2a2a" stroke="#2a2a2a" stroke-width="0.08"><tspan font-style="italic">p</tspan>=0.002</text>
</g>
</svg>
</body>
</html>
